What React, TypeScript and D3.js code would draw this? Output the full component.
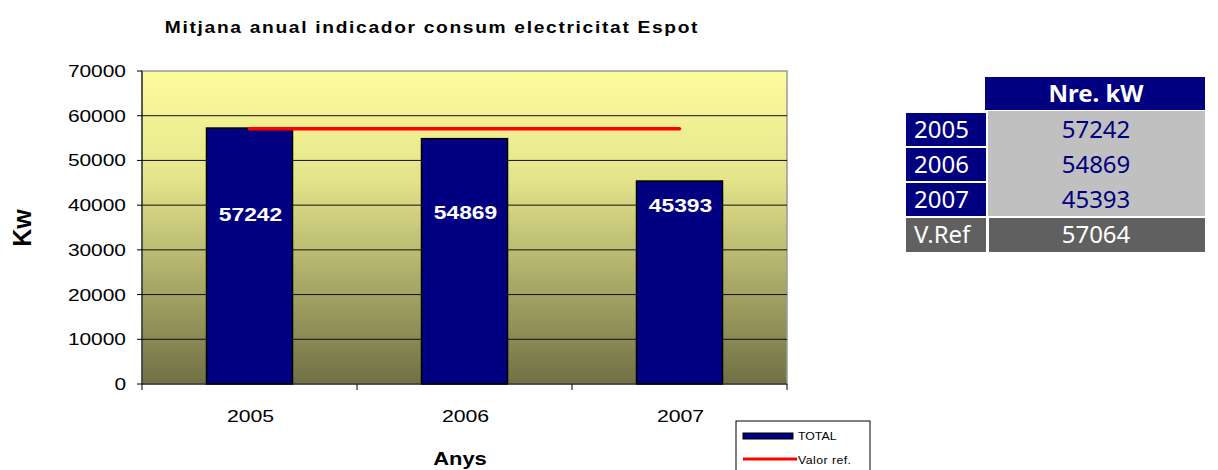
import React from "react";
import * as d3 from "d3";

const years = ["2005", "2006", "2007"];
const totals = [57242, 54869, 45393];
const refValue = 57064;
const yTicks = [0, 10000, 20000, 30000, 40000, 50000, 60000, 70000];
const labelLevels = [38000, 38500, 40000];
const tableRows = ["2005", "2006", "2007"];
const tableVals = [57242, 54869, 45393];
const refLabel = "V.Ref";
const headerLabel = "Nre. kW";

const W = 1218, H = 470;
const plot = { left: 142, right: 787, top: 71, bottom: 384 };

function SText({ x, y, sx = 1.18, anchor = "middle", children, ...rest }: any) {
  return (
    <text transform={`translate(${x},${y}) scale(${sx},1)`} textAnchor={anchor} {...rest}>
      {children}
    </text>
  );
}

export default function App() {
  const xb = d3.scaleBand<string>().domain(years).range([plot.left, plot.right]);
  const y = d3.scaleLinear().domain([0, 70000]).range([plot.bottom, plot.top]);
  const bw = xb.bandwidth() * 0.4;
  const cx = (c: string) => (xb(c) as number) + xb.bandwidth() / 2;

  const line = d3.line<number>()
    .x((_, i) => cx(years[i]))
    .y((d) => y(d));
  const refPts = years.map(() => refValue);

  const tX0 = 906, tX1 = 987, tX2 = 1205;
  const rowTop = [113, 148, 183, 218];
  const rowH = 33;
  const font = "Arial, 'Liberation Sans', sans-serif";
  const tfont = "Tahoma, 'Noto Sans', 'DejaVu Sans', sans-serif";

  return (
    <svg width={W} height={H} style={{ position: "absolute", left: 0, top: 0 }} fontFamily={font}>
      <defs>
        <linearGradient id="bg" x1="0" y1="0" x2="0" y2="1">
          <stop offset="0" stopColor="#FDFD9C" />
          <stop offset="0.35" stopColor="#E3E38A" />
          <stop offset="1" stopColor="#707045" />
        </linearGradient>
      </defs>
      <rect x={0} y={0} width={W} height={H} fill="#fff" />
      <SText x={432} y={33} sx={1.2} fontSize={16} fontWeight="bold" letterSpacing={1.4} fill="#000">
        Mitjana anual indicador consum electricitat Espot
      </SText>

      <rect x={plot.left} y={plot.top} width={plot.right - plot.left} height={plot.bottom - plot.top} fill="url(#bg)" stroke="#999" strokeWidth={1.5} />
      {yTicks.filter((t) => t > 0 && t < 70000).map((t) => (
        <line key={t} x1={plot.left} x2={plot.right} y1={y(t)} y2={y(t)} stroke="#111" strokeWidth={1} />
      ))}

      {years.map((c, i) => (
        <rect key={c} x={cx(c) - bw / 2} y={y(totals[i])} width={bw} height={plot.bottom - y(totals[i])} fill="#000080" stroke="#000" strokeWidth={1.5} />
      ))}
      {years.map((c, i) => (
        <SText key={c} x={cx(c) + 1} y={y(labelLevels[i]) + 7} sx={1.2} fontSize={19} fontWeight="bold" fill="#fff">
          {totals[i]}
        </SText>
      ))}

      <path d={line(refPts) as string} stroke="#FF0000" strokeWidth={3.5} strokeLinecap="round" fill="none" />

      <line x1={plot.left} x2={plot.left} y1={plot.top} y2={plot.bottom} stroke="#000" strokeWidth={1} />
      <line x1={plot.left} x2={plot.right} y1={plot.bottom} y2={plot.bottom} stroke="#000" strokeWidth={1} />
      {yTicks.map((t) => (
        <g key={t}>
          <line x1={plot.left - 5} x2={plot.left} y1={y(t)} y2={y(t)} stroke="#000" />
          <SText x={126} y={y(t) + 6} anchor="end" sx={1.23} fontSize={17} fill="#000">
            {t}
          </SText>
        </g>
      ))}
      {[...years.map((c) => xb(c) as number), plot.right].map((v, i) => (
        <line key={i} x1={v} x2={v} y1={plot.bottom} y2={plot.bottom + 6} stroke="#000" />
      ))}
      {years.map((c) => (
        <SText key={c} x={cx(c) + 1} y={422} sx={1.25} fontSize={17} fill="#000">
          {c}
        </SText>
      ))}

      <SText x={460} y={465} sx={1.22} fontSize={18} fontWeight="bold" fill="#000">
        Anys
      </SText>
      <text transform="translate(31,228) rotate(-90)" textAnchor="middle" fontSize={25} fontWeight="bold" fill="#000">
        Kw
      </text>

      <rect x={736} y={421} width={134} height={60} fill="#fff" stroke="#000" strokeWidth={1} />
      <rect x={743} y={433} width={50} height={6} fill="#000080" stroke="#000" strokeWidth={1} />
      <SText x={798} y={440} anchor="start" sx={1.12} fontSize={11} fill="#000">TOTAL</SText>
      <line x1={743} x2={797} y1={459} y2={459} stroke="#FF0000" strokeWidth={3} />
      <SText x={798} y={464} anchor="start" sx={1.12} fontSize={11} letterSpacing={0.4} fill="#000">Valor ref.</SText>

      <rect x={tX1 - 2} y={77} width={tX2 - tX1 + 2} height={33} fill="#000080" />
      <text x={(tX1 + tX2) / 2} y={102} textAnchor="middle" fontFamily={tfont} fontSize={24} fontWeight="bold" fill="#fff">
        {headerLabel}
      </text>
      {tableRows.map((r, i) => (
        <g key={r}>
          <rect x={tX0} y={rowTop[i]} width={tX1 - tX0 - 1} height={rowH} fill="#000080" />
          <rect x={tX1 + 1} y={rowTop[i] - 2} width={tX2 - tX1 - 1} height={rowH + 2} fill="#C0C0C0" />
          <text x={tX0 + 8} y={rowTop[i] + 25} fontFamily={tfont} fontSize={24} fill="#fff">{r}</text>
          <text x={(tX1 + tX2) / 2} y={rowTop[i] + 25} textAnchor="middle" fontFamily={tfont} fontSize={24} fill="#000080">{tableVals[i]}</text>
        </g>
      ))}
      <rect x={tX0} y={rowTop[3]} width={tX1 - tX0 - 1} height={rowH + 1} fill="#606060" />
      <rect x={tX1 + 2} y={rowTop[3]} width={tX2 - tX1 - 2} height={rowH + 1} fill="#606060" />
      <text x={tX0 + 8} y={rowTop[3] + 25} fontFamily={tfont} fontSize={24} fill="#fff">{refLabel}</text>
      <text x={(tX1 + tX2) / 2} y={rowTop[3] + 25} textAnchor="middle" fontFamily={tfont} fontSize={24} fill="#fff">{refValue}</text>
    </svg>
  );
}
